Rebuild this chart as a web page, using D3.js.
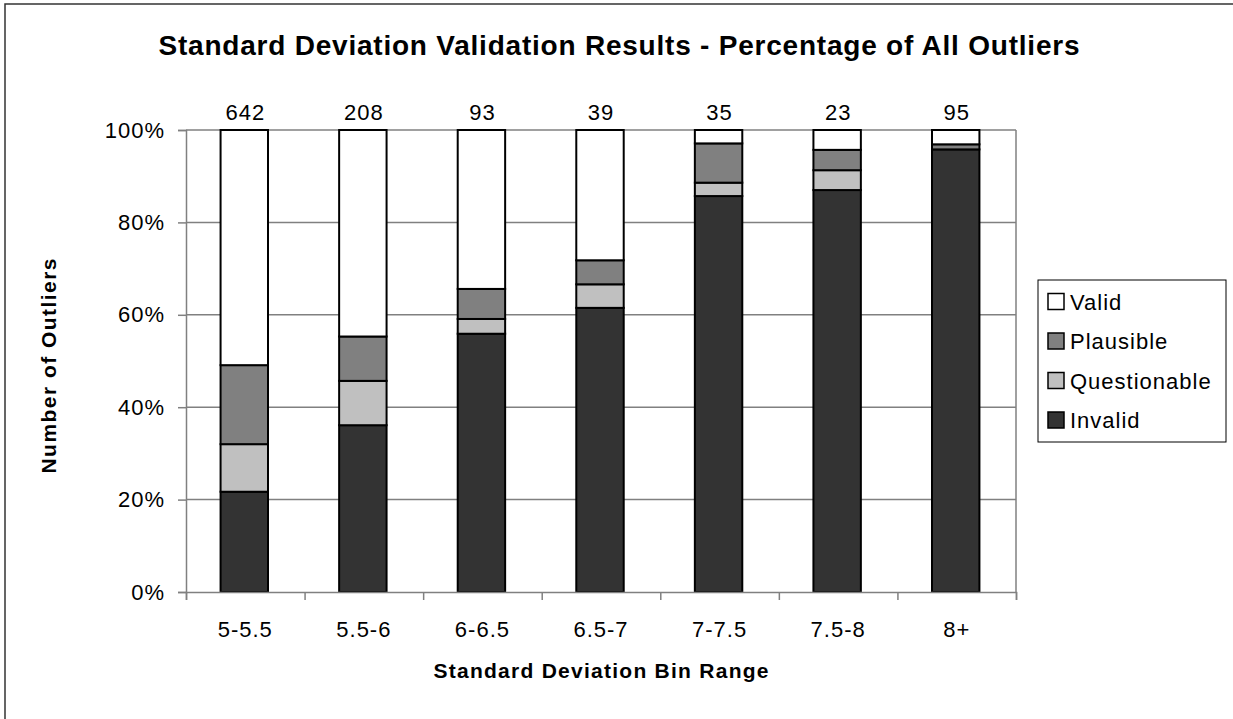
<!DOCTYPE html>
<html>
<head>
<meta charset="utf-8">
<script src="https://cdn.jsdelivr.net/npm/d3@7"></script>
<style>
  html, body { margin: 0; padding: 0; background: #fff; }
  svg { display: block; font-family: "Liberation Sans", Arial, sans-serif; }
</style>
</head>
<body>
<svg id="chart" width="1233" height="719"></svg>
<script>
// ---- Data ----
const categories = ["5-5.5", "5.5-6", "6-6.5", "6.5-7", "7-7.5", "7.5-8", "8+"];
const counts = [642, 208, 93, 39, 35, 23, 95];
const invalidPct = [21.7, 36.1, 55.9, 61.5, 85.7, 87.0, 95.8];
const questionablePct = [10.3, 9.6, 3.2, 5.1, 2.9, 4.3, 0.0];
const plausiblePct = [17.1, 9.6, 6.5, 5.2, 8.5, 4.4, 1.1];
const validPct = [50.9, 44.7, 34.4, 28.2, 2.9, 4.3, 3.1];
const seriesNames = ["Invalid", "Questionable", "Plausible", "Valid"];
const seriesColors = ["#333333", "#c0c0c0", "#808080", "#ffffff"];
const yTicks = [0, 20, 40, 60, 80, 100];

const title = "Standard Deviation Validation Results - Percentage of All Outliers";
const xTitle = "Standard Deviation Bin Range";
const yTitle = "Number of Outliers";

// ---- Build table ----
const seriesValues = [invalidPct, questionablePct, plausiblePct, validPct];
const table = categories.map((c, i) => {
  const row = { cat: c };
  seriesNames.forEach((s, j) => row[s] = seriesValues[j][i]);
  return row;
});
const stacked = d3.stack().keys(seriesNames)(table);

const svg = d3.select("#chart");
const FS = 22;
const LS = "1px";

// outer chart border (only top/left visible in frame)
svg.append("rect")
  .attr("x", 5).attr("y", 4).attr("width", 1260).attr("height", 760)
  .attr("fill", "#fff").attr("stroke", "#333").attr("stroke-width", 1.5);

const plot = { left: 186, right: 1016, top: 130, bottom: 592 };

const x = d3.scaleBand().domain(categories).range([plot.left, plot.right]).padding(0);
const xEdge = d3.scaleLinear().domain([0, categories.length]).range([plot.left, plot.right]);
const y = d3.scaleLinear().domain([0, 100]).range([plot.bottom, plot.top]);

// gridlines
svg.append("g").selectAll("line").data(yTicks.filter(t => t > 0)).join("line")
  .attr("x1", plot.left).attr("x2", plot.right)
  .attr("y1", d => y(d)).attr("y2", d => y(d))
  .attr("stroke", "#808080").attr("stroke-width", 1.5);

// right border of plot
svg.append("line")
  .attr("x1", plot.right).attr("x2", plot.right)
  .attr("y1", plot.top).attr("y2", plot.bottom)
  .attr("stroke", "#808080").attr("stroke-width", 1.5);

// bars
const barW = x.bandwidth() * 0.4;
svg.append("g").selectAll("g").data(stacked).join("g")
  .attr("fill", (d, i) => seriesColors[i])
  .selectAll("rect").data(d => d).join("rect")
  .attr("x", d => x(d.data.cat) + (x.bandwidth() - barW) / 2 - 1)
  .attr("width", barW)
  .attr("y", d => y(d[1]))
  .attr("height", d => y(d[0]) - y(d[1]))
  .attr("stroke", "#000").attr("stroke-width", 2);

// Y axis
const yAxis = svg.append("g")
  .attr("transform", `translate(${plot.left},0)`)
  .call(d3.axisLeft(y).tickValues(yTicks).tickFormat(d => d + "%").tickSize(8).tickPadding(13));
yAxis.select(".domain").attr("stroke", "#808080").attr("stroke-width", 1.5);
yAxis.selectAll(".tick line").attr("stroke", "#808080").attr("stroke-width", 1.5);
yAxis.selectAll(".tick text").attr("font-size", FS).attr("fill", "#000")
  .attr("font-family", "Liberation Sans, Arial, sans-serif").attr("letter-spacing", LS);

// X axis tick marks at band edges
const xTicks = svg.append("g")
  .attr("transform", `translate(0,${plot.bottom})`)
  .call(d3.axisBottom(xEdge).tickValues(d3.range(categories.length + 1)).tickFormat("").tickSize(8));
xTicks.select(".domain").attr("stroke", "#808080").attr("stroke-width", 1.5);
xTicks.selectAll(".tick line").attr("stroke", "#808080").attr("stroke-width", 1.5);

// X axis labels
const xLab = svg.append("g")
  .attr("transform", `translate(0,${plot.bottom})`)
  .call(d3.axisBottom(x).tickSize(0).tickPadding(29));
xLab.select(".domain").remove();
xLab.selectAll(".tick text").attr("font-size", FS).attr("fill", "#000")
  .attr("font-family", "Liberation Sans, Arial, sans-serif").attr("letter-spacing", LS);

// count labels
svg.append("g").selectAll("text").data(categories).join("text")
  .attr("x", d => x(d) + x.bandwidth() / 2)
  .attr("y", y(100) - 10)
  .attr("text-anchor", "middle")
  .attr("font-size", FS).attr("letter-spacing", LS)
  .text((d, i) => counts[i]);

// title
svg.append("text")
  .attr("x", 619).attr("y", 55)
  .attr("text-anchor", "middle")
  .attr("font-size", 28).attr("font-weight", "bold")
  .attr("textLength", 921).attr("lengthAdjust", "spacing")
  .text(title);

// x title
svg.append("text")
  .attr("x", (plot.left + plot.right) / 2).attr("y", 678)
  .attr("text-anchor", "middle")
  .attr("font-size", 21).attr("font-weight", "bold")
  .attr("textLength", 335).attr("lengthAdjust", "spacing")
  .text(xTitle);

// y title
svg.append("text")
  .attr("transform", "translate(56,366) rotate(-90)")
  .attr("text-anchor", "middle")
  .attr("font-size", 21).attr("font-weight", "bold")
  .attr("textLength", 215).attr("lengthAdjust", "spacing")
  .text(yTitle);

// legend
const legend = svg.append("g");
legend.append("rect")
  .attr("x", 1038).attr("y", 280).attr("width", 188).attr("height", 162)
  .attr("fill", "#fff").attr("stroke", "#000").attr("stroke-width", 1);
const legendOrder = ["Valid", "Plausible", "Questionable", "Invalid"];
const legRows = legend.selectAll("g.row").data(legendOrder).join("g")
  .attr("class", "row")
  .attr("transform", (d, i) => `translate(1048,${301.5 + i * 39.5})`);
legRows.append("rect")
  .attr("x", 0).attr("y", -8).attr("width", 16).attr("height", 16)
  .attr("fill", d => seriesColors[seriesNames.indexOf(d)])
  .attr("stroke", "#000").attr("stroke-width", 1.5);
legRows.append("text")
  .attr("x", 22).attr("y", 8)
  .attr("font-size", FS).attr("letter-spacing", LS)
  .text(d => d);
</script>
</body>
</html>
